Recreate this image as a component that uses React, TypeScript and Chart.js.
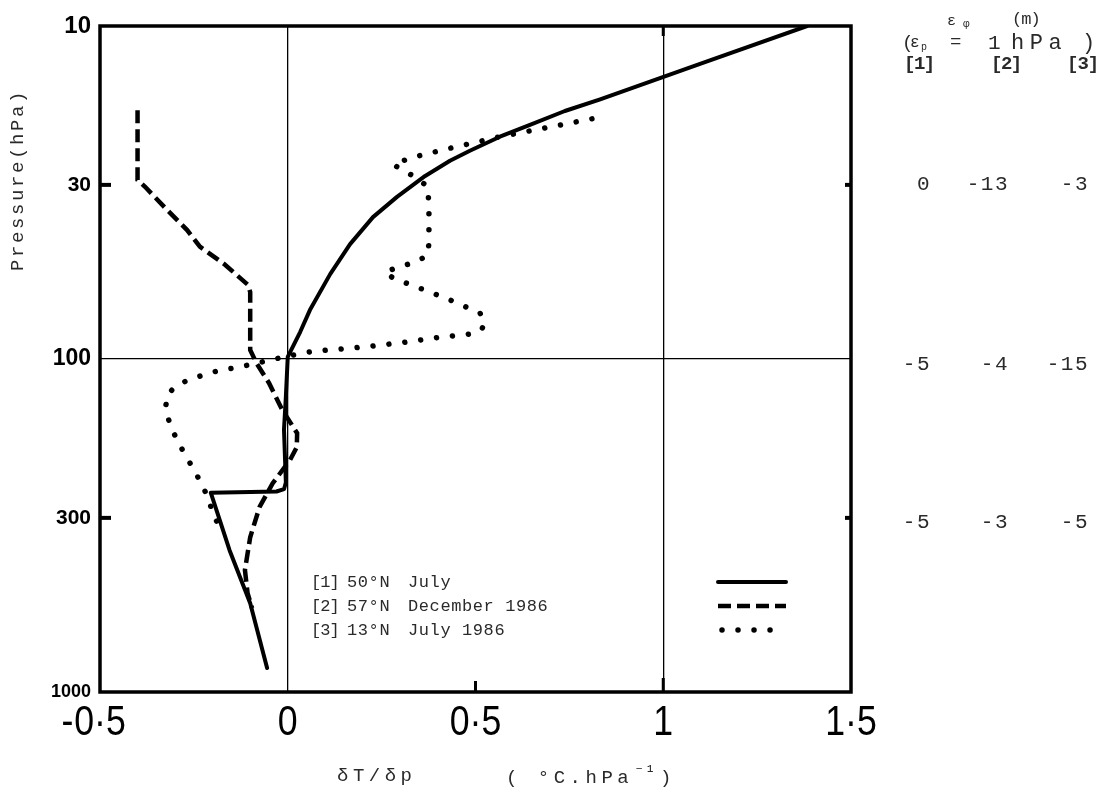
import React, { useEffect, useRef } from "react";
import { Chart, registerables } from "chart.js";

Chart.register(...registerables);

// ---------- data ----------
const xTicks = [-0.5, 0, 0.5, 1, 1.5];
const xTickLabels = ["-0·5", "0", "0·5", "1", "1·5"];
const yTicks = [10, 30, 100, 300, 1000];
const yTickLabels = ["10", "30", "100", "300", "1000"];

// [1] 50°N July (solid)
const s1Pressure = [10, 13.0, 14.7, 16.6, 18.0, 19.8, 21.5, 23.7, 25.4, 28.2, 32.6, 37.5, 45.2, 55.6, 71.3, 83.0, 98.6, 130, 163, 235, 246, 250, 252, 375, 541, 847];
const s1Value = [1.383, 1.098, 0.965, 0.832, 0.738, 0.645, 0.565, 0.485, 0.432, 0.366, 0.291, 0.227, 0.166, 0.113, 0.059, 0.033, 0.0, -0.005, -0.01, -0.005, -0.01, -0.03, -0.205, -0.155, -0.1, -0.055];

// [2] 57°N December 1986 (dashed)
const s2Pressure = [17.9, 29, 30.4, 35.7, 41, 46, 52.1, 59.9, 63, 94, 103, 118, 142, 167, 184, 201, 236, 278, 343, 430, 505, 560];
const s2Value = [-0.4, -0.4, -0.38, -0.321, -0.268, -0.234, -0.167, -0.106, -0.1, -0.1, -0.083, -0.05, -0.015, 0.025, 0.024, 0.006, -0.04, -0.075, -0.1, -0.114, -0.107, -0.095];

// [3] 13°N July 1986 (dotted)
const s3Pressure = [19.0, 20.4, 21.5, 23.4, 24.9, 26.1, 28.4, 30.4, 35, 44.6, 48.8, 51.2, 53, 54.8, 57.2, 61.3, 66.1, 72.8, 77.5, 81.3, 84.1, 86, 88.9, 92, 94, 95.3, 98, 106, 108, 112, 116, 121, 128, 139, 149, 163, 182, 201, 220, 242, 261, 290, 311];
const s3Value = [0.81, 0.67, 0.565, 0.424, 0.326, 0.281, 0.339, 0.373, 0.376, 0.376, 0.373, 0.339, 0.294, 0.259, 0.281, 0.352, 0.427, 0.512, 0.525, 0.517, 0.491, 0.405, 0.317, 0.206, 0.107, 0.057, 0.0, -0.133, -0.18, -0.228, -0.268, -0.3, -0.32, -0.325, -0.32, -0.308, -0.287, -0.265, -0.245, -0.226, -0.212, -0.2, -0.187];

const seriesIds = ["[1]", "[2]", "[3]"];
const seriesLat = ["50°N", "57°N", "13°N"];
const seriesMonth = ["July", "December 1986", "July 1986"];

// geopotential error table  (ε_φ in m, ε_p = 1 hPa)
const tableLevels = [30, 100, 300];
const tableCol1 = ["0", "-5", "-5"];
const tableCol2 = ["-13", "-4", "-3"];
const tableCol3 = ["-3", "-15", "-5"];

const yTickFontSizes = [24, 21, 23, 21, 18];

const MONO = "'Liberation Mono', 'DejaVu Sans Mono', monospace";
const SANS = "'Liberation Sans', Arial, sans-serif";
const TXT = "#2a2a2a";

function txt(ctx: CanvasRenderingContext2D, s: string, x: number, y: number, font: string, spacing = 0, align: CanvasTextAlign = "left") {
  ctx.font = font;
  (ctx as any).letterSpacing = spacing + "px";
  ctx.textAlign = align;
  ctx.textBaseline = "middle";
  ctx.fillStyle = TXT;
  ctx.fillText(s, x, y);
  (ctx as any).letterSpacing = "0px";
}

const overlay = {
  id: "overlay",
  afterDraw(chart: any) {
    const { ctx, chartArea: a, scales } = chart;
    const xs = scales.x;
    const ys = scales.y;
    ctx.save();
    // frame
    ctx.strokeStyle = "#000";
    ctx.lineWidth = 3.5;
    ctx.lineJoin = "miter";
    ctx.strokeRect(a.left, a.top, a.right - a.left, a.bottom - a.top);

    // small tick marks
    ctx.lineCap = "butt";
    ctx.lineWidth = 4;
    [30, 300].forEach((p) => {
      const py = ys.getPixelForValue(p);
      ctx.beginPath();
      ctx.moveTo(a.left, py);
      ctx.lineTo(a.left + 11, py);
      ctx.stroke();
      ctx.beginPath();
      ctx.moveTo(a.right, py);
      ctx.lineTo(a.right - 6, py);
      ctx.stroke();
    });
    ctx.lineWidth = 3;
    const px05 = xs.getPixelForValue(0.5);
    ctx.beginPath();
    ctx.moveTo(px05, a.bottom);
    ctx.lineTo(px05, a.bottom - 11);
    ctx.stroke();
    const px1 = xs.getPixelForValue(1);
    ctx.beginPath();
    ctx.moveTo(px1, a.bottom);
    ctx.lineTo(px1, a.bottom - 14);
    ctx.stroke();
    ctx.beginPath();
    ctx.moveTo(px1, a.top);
    ctx.lineTo(px1, a.top + 10);
    ctx.stroke();

    // x tick labels (tall, narrow numerals)
    xTicks.forEach((v, i) => {
      const label = xTickLabels[i];
      const px = xs.getPixelForValue(v);
      ctx.save();
      ctx.translate(px, a.bottom + 43);
      ctx.scale(0.85, 1);
      ctx.font = `42px ${SANS}`;
      ctx.fillStyle = "#000";
      ctx.textBaseline = "alphabetic";
      const neg = label.startsWith("-");
      const body = neg ? label.slice(1) : label;
      ctx.textAlign = "center";
      ctx.fillText(body, 0, 0);
      if (neg) {
        const w = ctx.measureText(body).width;
        ctx.textAlign = "right";
        ctx.fillText("-", -w / 2 - 1, 0);
      }
      ctx.restore();
    });

    // axis titles
    ctx.save();
    ctx.translate(18, 180);
    ctx.rotate(-Math.PI / 2);
    txt(ctx, "Pressure(hPa)", 0, 0, `19px ${MONO}`, 2.6, "center");
    ctx.restore();
    txt(ctx, "δT/δp", 337, 776, `19px ${MONO}`, 4.5);
    txt(ctx, "( °C.hPa", 506, 778, `19px ${MONO}`, 4.5);
    txt(ctx, "⁻¹", 634, 772, `17px ${MONO}`, 1);
    txt(ctx, ")", 660, 778, `19px ${MONO}`, 0);

    // legend
    const rows = [582, 606, 630];
    chart.data.datasets.forEach((ds: any, i: number) => {
      const ry = rows[i];
      txt(ctx, seriesIds[i], 311, ry, `17px ${MONO}`, -1);
      txt(ctx, seriesLat[i], 347, ry, `17px ${MONO}`, 0.6);
      txt(ctx, seriesMonth[i], 408, ry, `17px ${MONO}`, 0.6);
      ctx.save();
      ctx.strokeStyle = "#000";
      ctx.lineWidth = ds.borderWidth;
      ctx.lineCap = ds.borderCapStyle || "butt";
      ctx.setLineDash(ds.borderDash || []);
      ctx.beginPath();
      ctx.moveTo(i === 2 ? 722 : 718, ry);
      ctx.lineTo(786, ry);
      ctx.stroke();
      ctx.restore();
    });

    // right-hand table
    txt(ctx, "ε", 947, 21, `15px ${MONO}`);
    txt(ctx, "φ", 963, 24, `11px ${MONO}`);
    txt(ctx, "(m)", 1012, 19, `17px ${MONO}`, -1);
    txt(ctx, "(", 902, 43, `19px ${MONO}`);
    txt(ctx, "ε", 910, 43, `16px ${MONO}`);
    txt(ctx, "p", 921, 47, `10px ${MONO}`);
    txt(ctx, "=", 950, 42, `19px ${MONO}`);
    txt(ctx, "1", 988, 43, `21px ${MONO}`);
    txt(ctx, "hPa", 1011, 43, `22px ${MONO}`, 5.5);
    txt(ctx, ")", 1082, 43, `22px ${MONO}`);
    txt(ctx, "[1]", 904, 64, `bold 19px ${MONO}`, -1.5);
    txt(ctx, "[2]", 991, 64, `bold 19px ${MONO}`, -1.5);
    txt(ctx, "[3]", 1067, 64, `bold 19px ${MONO}`, -1);
    tableLevels.forEach((p, i) => {
      const py = ys.getPixelForValue(p) + (i === 0 ? 0 : 5);
      txt(ctx, tableCol1[i], 931, py, `21px ${MONO}`, 1.5, "right");
      txt(ctx, tableCol2[i], 1009, py, `21px ${MONO}`, 1.5, "right");
      txt(ctx, tableCol3[i], 1089, py, `21px ${MONO}`, 1.5, "right");
    });
    ctx.restore();
  },
};

function toPoints(ps: number[], vs: number[]) {
  return ps.map((p, i) => ({ x: vs[i], y: p }));
}

export default function App() {
  const ref = useRef<HTMLCanvasElement | null>(null);
  useEffect(() => {
    if (!ref.current) return;
    const chart = new Chart(ref.current, {
      type: "scatter",
      data: {
        datasets: [
          {
            label: seriesMonth[0],
            data: toPoints(s1Pressure, s1Value),
            showLine: true,
            borderColor: "#000",
            borderWidth: 4,
            borderJoinStyle: "round",
            borderCapStyle: "round",
            pointRadius: 0,
            tension: 0,
          },
          {
            label: seriesMonth[1],
            data: toPoints(s2Pressure, s2Value),
            showLine: true,
            borderColor: "#000",
            borderWidth: 4.5,
            borderDash: [13, 6],
            borderCapStyle: "butt",
            pointRadius: 0,
            tension: 0,
          },
          {
            label: seriesMonth[2],
            data: toPoints(s3Pressure, s3Value),
            showLine: true,
            borderColor: "#000",
            borderWidth: 5.5,
            borderDash: [0.01, 16],
            borderCapStyle: "round",
            pointRadius: 0,
            tension: 0,
          },
        ],
      } as any,
      options: {
        animation: false,
        responsive: false,
        devicePixelRatio: 1,
        layout: { padding: { left: 0, top: 26, right: 262, bottom: 0 } },
        plugins: { legend: { display: false }, tooltip: { enabled: false } },
        scales: {
          x: {
            type: "linear",
            min: -0.5,
            max: 1.5,
            afterBuildTicks: (scale: any) => {
              scale.ticks = xTicks.map((v) => ({ value: v }));
            },
            afterFit: (scale: any) => {
              scale.height = 104;
            },
            border: { display: false },
            grid: {
              drawTicks: false,
              lineWidth: 1.3,
              color: (c: any) => (c.tick && (c.tick.value === 0 || c.tick.value === 1) ? "#000" : "rgba(0,0,0,0)"),
            },
            ticks: {
              display: false,
              autoSkip: false,
              maxRotation: 0,
              callback: (_v: any, i: number) => xTickLabels[i],
            },
          },
          y: {
            type: "logarithmic",
            reverse: true,
            min: 10,
            max: 1000,
            afterBuildTicks: (scale: any) => {
              scale.ticks = yTicks.map((v) => ({ value: v }));
            },
            afterFit: (scale: any) => {
              scale.width = 100;
            },
            border: { display: false },
            grid: {
              drawTicks: false,
              lineWidth: 1.3,
              color: (c: any) => (c.tick && c.tick.value === 100 ? "#000" : "rgba(0,0,0,0)"),
            },
            ticks: {
              autoSkip: false,
              padding: 9,
              color: "#000",
              font: (c: any) => ({ family: SANS, weight: "bold", size: yTickFontSizes[c.index] ?? 20 }),
              callback: (_v: any, i: number) => yTickLabels[i],
            },
          },
        },
      } as any,
      plugins: [overlay],
    });
    return () => chart.destroy();
  }, []);
  return (
    <div style={{ position: "fixed", left: 0, top: 0, width: 1113, height: 796, background: "#fff" }}>
      <canvas ref={ref} width={1113} height={796} />
    </div>
  );
}
